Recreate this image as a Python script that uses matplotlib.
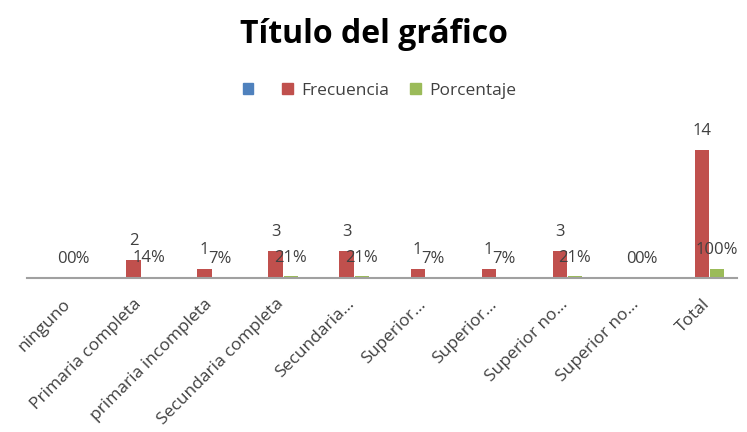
import matplotlib
matplotlib.use("Agg")
import matplotlib.pyplot as plt
from matplotlib.patches import Patch
import numpy as np

plt.rcParams['font.family'] = ['Open Sans', 'DejaVu Sans']

categories = ["ninguno", "Primaria completa", "primaria incompleta", "Secundaria completa",
              "Secundaria…", "Superior…", "Superior…", "Superior no…", "Superior no…", "Total"]
frecuencia = [0, 2, 1, 3, 3, 1, 1, 3, 0, 14]
porcentaje = [0.0, 0.14, 0.07, 0.21, 0.21, 0.07, 0.07, 0.21, 0.0, 1.0]
porcentaje_labels = ["0%", "14%", "7%", "21%", "21%", "7%", "7%", "21%", "0%", "100%"]

BLUE = "#4F81BD"
RED = "#C0504D"
GREEN = "#9BBB59"
TXT = "#404040"

fig = plt.figure(figsize=(7.47, 4.32), dpi=100)
ax = fig.add_axes([0.036, 0.356, 0.951, 0.339])

x = np.arange(len(categories))
w = 0.2
off = 0.215
ax.bar(x, frecuencia, width=w, color=RED)
ax.bar(x + off, porcentaje, width=w, color=GREEN)

for xi, v in zip(x, frecuencia):
    ax.annotate(str(v), (xi, v), xytext=(0, 10.6), textcoords="offset points",
                ha="center", va="baseline", fontsize=12, color=TXT, annotation_clip=False)
for xi, v, lab in zip(x, porcentaje, porcentaje_labels):
    ax.annotate(lab, (xi + off, v), xytext=(0, 10.6), textcoords="offset points",
                ha="center", va="baseline", fontsize=12, color=TXT, annotation_clip=False)

ax.set_xlim(-0.5, len(categories) - 0.5)
ax.set_ylim(0, 16)
ax.set_yticks([])
for s in ["top", "right", "left"]:
    ax.spines[s].set_visible(False)
ax.spines["bottom"].set_color("#A0A0A0")
ax.spines["bottom"].set_linewidth(1.5)
ax.set_xticks(x)
ax.set_xticklabels(categories, rotation=45, ha="right", va="top",
                   rotation_mode="anchor", fontsize=12.5, color=TXT)
ax.tick_params(axis="x", length=0, pad=13)

fig.text(0.5, 0.92, "Título del gráfico", ha="center", va="center",
         fontsize=23, fontweight="bold", color="#000000")

handles = [Patch(color=BLUE, label=""), Patch(color=RED, label="Frecuencia"),
           Patch(color=GREEN, label="Porcentaje")]
fig.legend(handles=handles, loc="center", bbox_to_anchor=(0.508, 0.79), ncol=3,
           frameon=False, fontsize=12.5, handlelength=0.6, handleheight=0.6,
           handletextpad=0.5, columnspacing=1.2, labelcolor=TXT)

fig.savefig("out.png", dpi=100, facecolor="white")
